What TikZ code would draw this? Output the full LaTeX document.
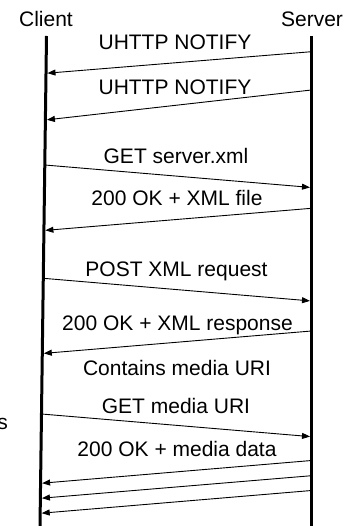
\documentclass[tikz,border=0pt]{standalone}
\usepackage{fontspec}
\setmainfont{Liberation Sans}
\usetikzlibrary{arrows.meta}
\tikzset{
  lifeline/.style={line width=3pt},
  msg/.style={line width=0.9pt,-{Triangle[length=8pt,width=6pt]},shorten >=1.5pt},
  lbl/.style={anchor=base,inner sep=0pt,font=\fontsize{21}{25}\selectfont}
}
\begin{document}
\begin{tikzpicture}[x=1pt,y=-1pt]
\useasboundingbox (0,0) rectangle (347,526);
% lifelines
\coordinate (ctop) at (46.5,36);
\coordinate (cbot) at (40,526);
\coordinate (stop) at (311.5,36);
\coordinate (sbot) at (311.5,526);
\draw[lifeline] (ctop) -- (cbot);
\draw[lifeline] (stop) -- (sbot);
% headers
\node[lbl] (client) at (46,26.5) {Client};
\node[lbl] (server) at (312,26.5) {Server};
% endpoints
\coordinate (s1) at (311.5,51.7);  \coordinate (c1) at (46.0,73.3);
\coordinate (s2) at (311.5,90);    \coordinate (c2) at (45.4,120);
\coordinate (c3) at (44.8,165);    \coordinate (s3) at (311.5,187.5);
\coordinate (s4) at (311.5,208.3); \coordinate (c4) at (43.9,230.5);
\coordinate (c5) at (43.3,278.3);  \coordinate (s5) at (311.5,301);
\coordinate (s6) at (311.5,331);   \coordinate (c6) at (42.3,353.5);
\coordinate (c7) at (41.5,414);    \coordinate (s7) at (311.5,436.7);
\coordinate (s8) at (311.5,460.5); \coordinate (c8) at (40.6,483.3);
\coordinate (s9) at (311.5,475.7); \coordinate (c9) at (40.4,498.3);
\coordinate (s10) at (311.5,490.5);\coordinate (c10) at (40.2,513.3);
% messages
\draw[msg] (s1) -- (c1);
\draw[msg] (s2) -- (c2);
\draw[msg] (c3) -- (s3);
\draw[msg] (s4) -- (c4);
\draw[msg] (c5) -- (s5);
\draw[msg] (s6) -- (c6);
\draw[msg] (c7) -- (s7);
\draw[msg] (s8) -- (c8);
\draw[msg] (s9) -- (c9);
\draw[msg] (s10) -- (c10);
% labels
\node[lbl] (l1) at (175,50) {UHTTP NOTIFY};
\node[lbl] (l2) at (175,95) {UHTTP NOTIFY};
\node[lbl] (l3) at (176,163.3) {GET server.xml};
\node[lbl] (l4) at (177,206) {200 OK + XML file};
\node[lbl] (l5) at (176.5,276) {POST XML request};
\node[lbl] (l6) at (177.5,330) {200 OK + XML response};
\node[lbl] (l7) at (177,375) {Contains media URI};
\node[lbl] (l8) at (176,413.3) {GET media URI};
\node[lbl] (l9) at (177,456.7) {200 OK + media data};
\node[lbl,anchor=base east] (ls) at (8,429) {s};
\end{tikzpicture}
\end{document}
